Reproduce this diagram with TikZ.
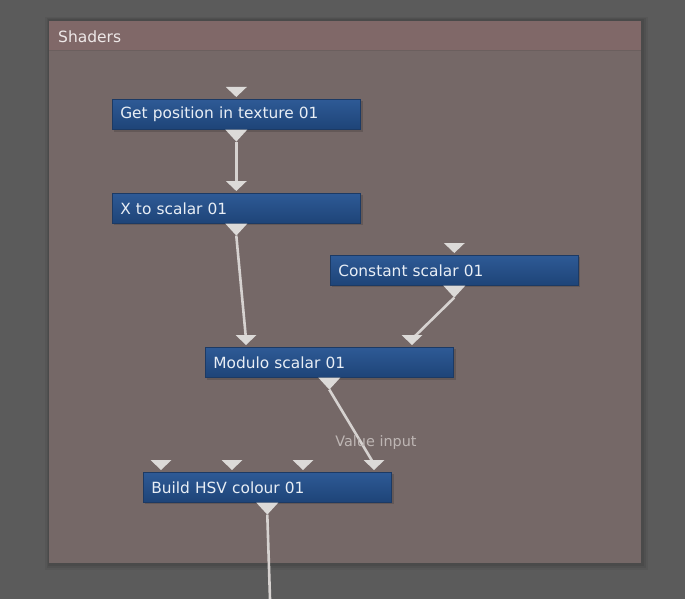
\documentclass[tikz,border=0pt]{standalone}
\usepackage{fontspec}
\setmainfont{DejaVu Sans}
\usetikzlibrary{calc}
\definecolor{outerbg}{RGB}{91,91,91}
\definecolor{panelbg}{RGB}{117,104,103}
\definecolor{panelhead}{RGB}{128,104,104}
\definecolor{nodetop}{RGB}{46,90,150}
\definecolor{nodebot}{RGB}{30,68,120}
\definecolor{nodeedge}{RGB}{28,58,100}
\definecolor{nodetext}{RGB}{232,238,245}
\definecolor{portc}{RGB}{220,218,216}
\definecolor{wirec}{RGB}{214,210,208}
\definecolor{labelc}{RGB}{190,182,180}
\definecolor{headtext}{RGB}{238,232,232}
\tikzset{
  opnode/.style={anchor=north west, draw=nodeedge, line width=0.6pt,
    top color=nodetop, bottom color=nodebot, text=nodetext,
    text width=232pt, inner xsep=8pt, inner ysep=0pt, minimum height=30pt,
    align=left, font=\fontsize{15.4}{18}\selectfont},
  port/.style={fill=portc},
  wire/.style={draw=wirec, line width=2.6pt},
  hint/.style={text=labelc, font=\fontsize{14.4}{16}\selectfont, inner sep=0pt},
  headlabel/.style={anchor=west, text=headtext, font=\fontsize{15.5}{18}\selectfont, inner sep=0pt},
  nshadow/.style={fill=black, opacity=0.15}
}
\newcommand\inporttri[1]{\fill[port] ($(#1)+(-10.5,0)$) -- ($(#1)+(10.5,0)$) -- ($(#1)+(0,10)$) -- cycle;}
\newcommand\outporttri[1]{\fill[port] ($(#1)+(-11,-12)$) -- ($(#1)+(11,-12)$) -- (#1) -- cycle;}
\begin{document}
\begin{tikzpicture}[x=1pt,y=-1pt]
\useasboundingbox (0,0) rectangle (685,599);
\fill[outerbg] (0,0) rectangle (685,599);
% soft panel shadow
\fill[black,opacity=0.05] (45,17) rectangle (648,570);
\fill[black,opacity=0.06] (47,18) rectangle (646,568);
\fill[black,opacity=0.07] (48,19) rectangle (644,566);
% panel
\fill[panelbg] (49,21) rectangle (641,563);
\fill[panelhead] (49,21) rectangle (641,50);
\draw[black,opacity=0.08,line width=0.6pt] (49,50) -- (641,50);
\node[headlabel] (title) at (58,37) {Shaders};

% nodes (drop shadows first)
\fill[nshadow] (114,101) rectangle (363,132);
\fill[nshadow] (114,195) rectangle (363,225);
\fill[nshadow] (332,257) rectangle (580,287);
\fill[nshadow] (207,349) rectangle (456,380);
\fill[nshadow] (145,474) rectangle (394,504);
\node[opnode] (gp) at (112,99) {\raisebox{-1.2pt}{Get position in texture 01}};
\node[opnode] (xs) at (112,193) {\raisebox{-1.2pt}{X to scalar 01}};
\node[opnode] (cs) at (330,255) {\raisebox{-1.2pt}{Constant scalar 01}};
\node[opnode] (ms) at (205,347) {\raisebox{-1.2pt}{Modulo scalar 01}};
\node[opnode] (hsv) at (143,472) {\raisebox{-1.2pt}{Build HSV colour 01}};

% port coordinates: in = base centre of input triangle, out = apex of output triangle
\coordinate (gp-in) at ($(gp.north)+(0,-12)$);
\coordinate (gp-out) at ($(gp.south)+(0,12)$);
\coordinate (xs-in) at ($(xs.north)+(0,-12)$);
\coordinate (xs-out) at ($(xs.south)+(0,12)$);
\coordinate (cs-in) at ($(cs.north)+(0,-12)$);
\coordinate (cs-out) at ($(cs.south)+(0,12)$);
\coordinate (ms-in1) at ($(ms.north west)+(41,-12)$);
\coordinate (ms-in2) at ($(ms.north west)+(207,-12)$);
\coordinate (ms-out) at ($(ms.south)+(0,12)$);
\coordinate (hsv-in1) at ($(hsv.north west)+(18,-12)$);
\coordinate (hsv-in2) at ($(hsv.north west)+(89,-12)$);
\coordinate (hsv-in3) at ($(hsv.north west)+(160,-12)$);
\coordinate (hsv-in4) at ($(hsv.north west)+(231,-12)$);
\coordinate (hsv-out) at ($(hsv.south)+(0,12)$);
\coordinate (exit) at (270,599);

% wires
\draw[wire] (gp-out) -- ($(xs-in)+(0,4)$);
\draw[wire] (xs-out) -- ($(ms-in1)+(0,4)$);
\draw[wire] (cs-out) -- ($(ms-in2)+(0,4)$);
\draw[wire] (ms-out) -- ($(hsv-in4)+(0,4)$);
\draw[wire] (hsv-out) -- (exit);

% ports
\inporttri{gp-in}\outporttri{gp-out}
\inporttri{xs-in}\outporttri{xs-out}
\inporttri{cs-in}\outporttri{cs-out}
\inporttri{ms-in1}\inporttri{ms-in2}\outporttri{ms-out}
\inporttri{hsv-in1}\inporttri{hsv-in2}\inporttri{hsv-in3}\inporttri{hsv-in4}\outporttri{hsv-out}

\node[hint] (vlabel) at (376,443) {Value input};
\end{tikzpicture}
\end{document}
